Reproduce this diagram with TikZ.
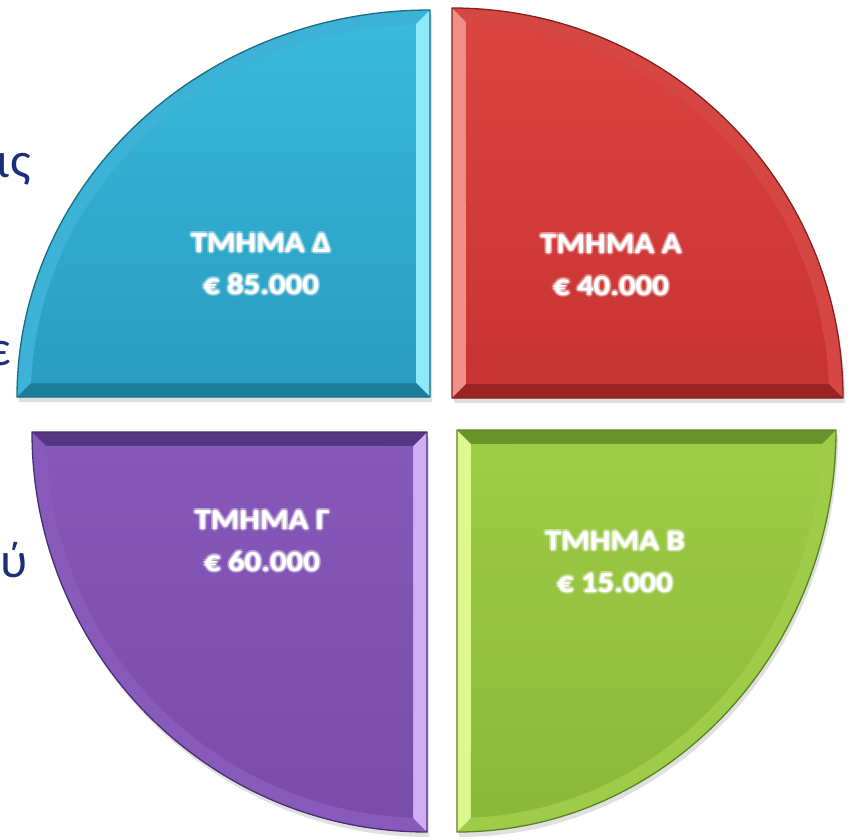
\documentclass[tikz,border=0pt]{standalone}
\usepackage{fontspec}
\setmainfont{Carlito}
\newfontfamily\lblfont[FakeStretch=1.13]{Carlito}
\definecolor{navy}{HTML}{1C2E78}
% blue (Delta)
\definecolor{qDTop}{HTML}{38B9DD}\definecolor{qDBot}{HTML}{2A9DC1}
\definecolor{qDRim}{HTML}{3BB2D6}\definecolor{qDLight}{HTML}{8FEAF7}
\definecolor{qDDark}{HTML}{1D7E9B}\definecolor{qDEdge}{HTML}{1A6C85}
% red (A)
\definecolor{qATop}{HTML}{DC4440}\definecolor{qABot}{HTML}{C83333}
\definecolor{qARim}{HTML}{D64642}\definecolor{qALight}{HTML}{F29088}
\definecolor{qADark}{HTML}{9A2424}\definecolor{qAEdge}{HTML}{852020}
% purple (Gamma)
\definecolor{qGTop}{HTML}{8658B9}\definecolor{qGBot}{HTML}{7A4DAC}
\definecolor{qGRim}{HTML}{875ABB}\definecolor{qGLight}{HTML}{CFAEF2}
\definecolor{qGDark}{HTML}{553683}\definecolor{qGEdge}{HTML}{4A2E75}
% green (B)
\definecolor{qBTop}{HTML}{9DCC45}\definecolor{qBBot}{HTML}{8AB83A}
\definecolor{qBRim}{HTML}{9ECB48}\definecolor{qBLight}{HTML}{DDF88E}
\definecolor{qBDark}{HTML}{66942A}\definecolor{qBEdge}{HTML}{5A8224}
\def\bev{14}
% #1 cx  #2 cy  #3 rx  #4 ry  #5 angle of vertical end  #6 angle of horizontal end
% #7 sx  #8 sy  #9 colour prefix
\newcommand\quadrant[9]{%
  \pgfmathsetmacro\rxi{#3-\bev}%
  \pgfmathsetmacro\ryi{#4-\bev}%
  \pgfmathsetmacro\sg{sign(#6-#5)}%
  \pgfmathsetmacro\sa{#5+\sg*asin(\bev/\rxi)}%
  \pgfmathsetmacro\ea{#6-\sg*asin(\bev/\ryi)}%
  \pgfmathsetmacro\vix{#1+\rxi*cos(\sa)}%
  \pgfmathsetmacro\viy{#2+\ryi*sin(\sa)}%
  \pgfmathsetmacro\hix{#1+\rxi*cos(\ea)}%
  \pgfmathsetmacro\hiy{#2+\ryi*sin(\ea)}%
  \coordinate (#9C) at (#1,#2);
  \coordinate (#9V) at (#1,#2+#8*#4);
  \coordinate (#9H) at (#1+#7*#3,#2);
  \coordinate (#9Ci) at (#1+#7*\bev,#2+#8*\bev);
  \coordinate (#9Vi) at (\vix,\viy);
  \coordinate (#9Hi) at (\hix,\hiy);
  \fill[black!12] ([shift={(2,-5)}]#9C) -- ([shift={(2,-5)}]#9V) arc[start angle=#5, end angle=#6, x radius=#3, y radius=#4] -- cycle;
  \fill[#9Rim] (#9C) -- (#9V) arc[start angle=#5, end angle=#6, x radius=#3, y radius=#4] -- cycle;
  \fill[#9Light] (#9C) -- (#9V) -- (#9Vi) -- (#9Ci) -- cycle;
  \fill[#9Dark] (#9C) -- (#9H) -- (#9Hi) -- (#9Ci) -- cycle;
  \shade[top color=#9Top, bottom color=#9Bot] (#9Ci) -- (#9Vi) arc[start angle=\sa, end angle=\ea, x radius=\rxi, y radius=\ryi] -- cycle;
  \draw[#9Edge, line width=1.3pt, line join=round] (#9C) -- (#9V) arc[start angle=#5, end angle=#6, x radius=#3, y radius=#4] -- cycle;
}
% glowing two-line label: #1 name, #2 x, #3 y, #4 text
\newcommand\glowlabel[4]{%
  \foreach \a in {0,45,...,315}{%
    \node[lbl, text opacity=0.22] (#1g\a) at ([shift={(\a:2)}]#2,#3) {#4};
  }
  \node[lbl] (#1) at (#2,#3) {#4};
}
\tikzset{
  lbl/.style={text=white, font=\lblfont\bfseries\fontsize{29}{42}\selectfont, inner sep=0pt, align=center},
  side/.style={text=navy, font=\fontsize{50}{56}\selectfont, inner sep=0pt, anchor=base east},
}
\begin{document}
\begin{tikzpicture}[x=1pt,y=1pt]
\useasboundingbox (0,0) rectangle (853,839);
\clip (0,0) rectangle (853,839);
\fill[white] (0,0) rectangle (853,839);
% side text fragments
\node[side] (s1) at (31,661) {ις};
\node[side] (s2) at (11,474) {ε};
\node[side] (s3) at (28,262) {ύ};
% quadrants
\quadrant{430}{442}{413}{387}{90}{180}{-1}{1}{qD}
\quadrant{452}{441}{391}{390}{90}{0}{1}{1}{qA}
\quadrant{427}{407}{395}{400}{270}{180}{-1}{-1}{qG}
\quadrant{457}{409}{379}{402}{270}{360}{1}{-1}{qB}
% labels
\glowlabel{lD}{261}{575}{ΤΜΗΜΑ Δ\\€ 85.000}
\glowlabel{lA}{611}{574}{ΤΜΗΜΑ Α\\€ 40.000}
\glowlabel{lG}{262}{298}{ΤΜΗΜΑ Γ\\€ 60.000}
\glowlabel{lB}{615}{277}{ΤΜΗΜΑ Β\\€ 15.000}
\end{tikzpicture}
\end{document}
